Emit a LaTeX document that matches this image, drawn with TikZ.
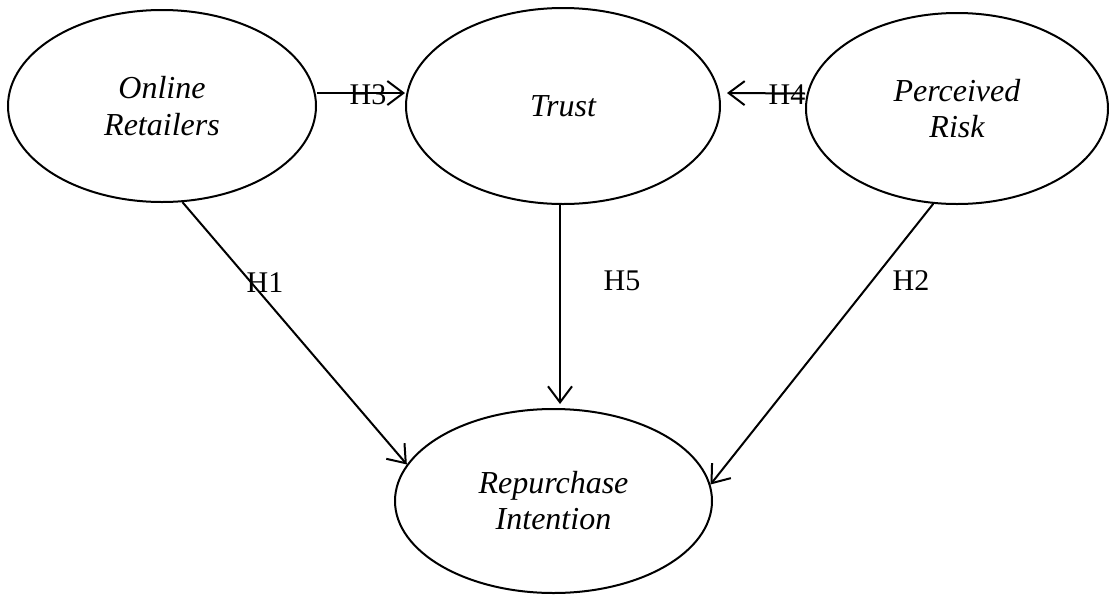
\documentclass[tikz,border=0pt]{standalone}
\usepackage{fontspec}
\setmainfont{Liberation Serif}
\usetikzlibrary{arrows.meta,shapes.geometric}
\begin{document}
\begin{tikzpicture}[x=1pt,y=-1pt,
  construct/.style={ellipse,draw,line width=2pt,inner sep=0pt,align=center,
    font=\itshape\fontsize{32}{37}\selectfont},
  arr/.style={line width=2pt,-{Straight Barb[length=16pt,width=24pt,line width=2pt]}},
  hyp/.style={anchor=base,inner sep=0pt,font=\fontsize{30}{36}\selectfont}]
\useasboundingbox (0,0) rectangle (1109,595);
\node[construct,minimum width=308pt,minimum height=192pt] (or) at (162,106) {\raisebox{-5pt}{\shortstack{Online\\[11pt]Retailers}}};
\node[construct,minimum width=314pt,minimum height=196pt] (tr) at (563,106) {\raisebox{-5pt}{Trust}};
\node[construct,minimum width=302pt,minimum height=191pt] (pr) at (957,108.5) {\raisebox{-5pt}{\shortstack{Perceived\\[11pt]Risk}}};
\node[construct,minimum width=317pt,minimum height=184pt] (ri) at (553.5,501) {\raisebox{-6pt}{\shortstack{Repurchase\\[5pt]Intention}}};
\draw[arr] ([yshift=13pt]or.east) -- ([yshift=13pt]tr.west);
\draw[arr] ([yshift=15pt]pr.west) -- ([xshift=6pt,yshift=13pt]tr.east);
\draw[arr] (or.-78) -- (ri.166);
\draw[arr] ([xshift=-3pt]tr.south) -- ([xshift=-3pt,yshift=4pt]tr.south |- ri.north);
\draw[arr] (pr.-104) -- (ri.6);
\node[hyp] (h3) at (368,104) {H3};
\node[hyp] (h4) at (787,104) {H4};
\node[hyp] (h1) at (265,292) {H1};
\node[hyp] (h5) at (622,290) {H5};
\node[hyp] (h2) at (911,290) {H2};
\end{tikzpicture}
\end{document}
